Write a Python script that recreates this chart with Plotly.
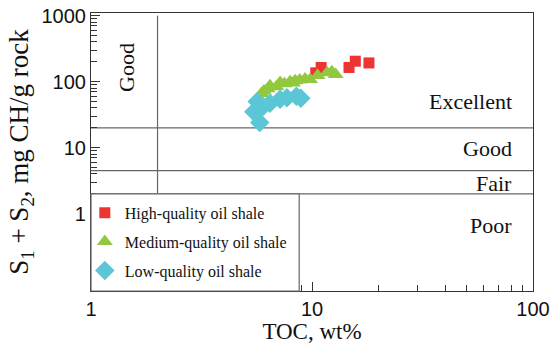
import math
import plotly.graph_objects as go

# ---- data ----
high_toc = [10.4, 11.0, 14.7, 15.7, 18.1]
high_s1s2 = [136, 164, 164, 204, 192]

med_toc = [5.9, 6.06, 6.3, 6.46, 6.9, 7.17, 7.5, 7.95, 8.2, 8.4, 8.8, 9.3, 9.8, 10.6, 11.7, 12.3, 12.8]
med_s1s2 = [66, 72, 78, 87, 84, 97, 93, 100, 95, 103, 106, 110, 108, 124, 136, 141, 128]

low_toc = [5.45, 5.65, 5.8, 6.0, 6.45, 7.17, 7.7, 8.5, 8.9]
low_s1s2 = [35, 50, 24, 42, 47, 54, 57, 60, 56]

# classification boundaries
s1s2_bounds = [20, 4.5, 2]    # Excellent/Good, Good/Fair, Fair/Poor
toc_bound = 2                 # TOC good limit
toc_range = [1, 100]
s1s2_top = 1000
legend_box_toc = 8.75         # right edge of legend frame

y_log_range = [-1.172, 3.04]
x_log_range = [0, 2]

serif = "Liberation Serif"
sans = "Liberation Sans"
line_col = "#666666"
axis_col = "#333333"

fig = go.Figure()

# horizontal boundaries
for b in s1s2_bounds:
    fig.add_trace(go.Scatter(x=toc_range, y=[b, b], mode="lines",
                             line=dict(color=line_col, width=1.2),
                             showlegend=False, hoverinfo="skip"))
# vertical TOC boundary
fig.add_trace(go.Scatter(x=[toc_bound, toc_bound], y=[s1s2_bounds[-1], s1s2_top], mode="lines",
                         line=dict(color=line_col, width=1.2),
                         showlegend=False, hoverinfo="skip"))

fig.add_trace(go.Scatter(x=high_toc, y=high_s1s2, mode="markers", name="High-quality oil shale",
                         marker=dict(symbol="square", size=11, color="#EE3333"), legendgroup="a"))
fig.add_trace(go.Scatter(x=med_toc, y=med_s1s2, mode="markers", name="Medium-quality oil shale",
                         marker=dict(symbol="triangle-up", size=14, color="#92C83E"), legendgroup="b"))
fig.add_trace(go.Scatter(x=low_toc, y=low_s1s2, mode="markers", name="Low-quality oil shale",
                         marker=dict(symbol="diamond", size=15, color="#5BC7D6"), legendgroup="c"))

# opaque legend frame (covers ticks like the reference)
box_x1 = (math.log10(legend_box_toc) - x_log_range[0]) / (x_log_range[1] - x_log_range[0])
box_y1 = (math.log10(s1s2_bounds[-1]) - y_log_range[0]) / (y_log_range[1] - y_log_range[0])
fig.add_shape(type="rect", xref="paper", yref="paper", x0=0, x1=box_x1, y0=0, y1=box_y1,
              fillcolor="white", layer="above", line=dict(color=line_col, width=1.2))

ann = dict(font=dict(family=serif, size=22, color="#111111"), showarrow=False,
           xref="paper", yref="paper")
fig.add_annotation(text="Excellent", x=0.957, y=0.68, xanchor="right", yanchor="middle", **ann)
fig.add_annotation(text="Good", x=0.957, y=0.514, xanchor="right", yanchor="middle", **ann)
fig.add_annotation(text="Fair", x=0.957, y=0.388, xanchor="right", yanchor="middle", **ann)
fig.add_annotation(text="Poor", x=0.957, y=0.237, xanchor="right", yanchor="middle", **ann)
fig.add_annotation(text="Good", x=0.0814, y=0.806, textangle=-90, xanchor="center", yanchor="middle", **ann)

common = dict(type="log", tickmode="linear", tick0=0, dtick=1, exponentformat="none",
              ticks="inside", ticklen=9, tickcolor=axis_col, automargin=False,
              minor=dict(ticks="inside", ticklen=6, dtick="D1", tickcolor=axis_col, showgrid=False),
              showline=True, linecolor=axis_col, linewidth=1.2, mirror=True, showgrid=False,
              zeroline=False, tickfont=dict(family=sans, size=20, color="#111111"))

fig.update_xaxes(range=x_log_range,
                 title=dict(text="TOC, wt%", font=dict(family=serif, size=23, color="#111111"), standoff=4),
                 **common)
fig.update_yaxes(range=y_log_range, labelalias={"0.1": ""},
                 title=dict(text="S<sub>1</sub> + S<sub>2</sub>, mg CH/g rock",
                            font=dict(family=serif, size=27, color="#111111"), standoff=4),
                 **common)

fig.update_layout(template="none", width=554, height=344, margin=dict(l=91, r=21, t=13, b=53),
                  paper_bgcolor="white", plot_bgcolor="white",
                  legend=dict(x=-0.014, y=0.342, xanchor="left", yanchor="top",
                              bgcolor="rgba(0,0,0,0)", tracegroupgap=5,
                              font=dict(family=serif, size=16, color="#111111")))

fig.write_html("out.html", config={"displayModeBar": False},
               post_script="document.body.style.margin='0';document.body.style.overflow='hidden';")
